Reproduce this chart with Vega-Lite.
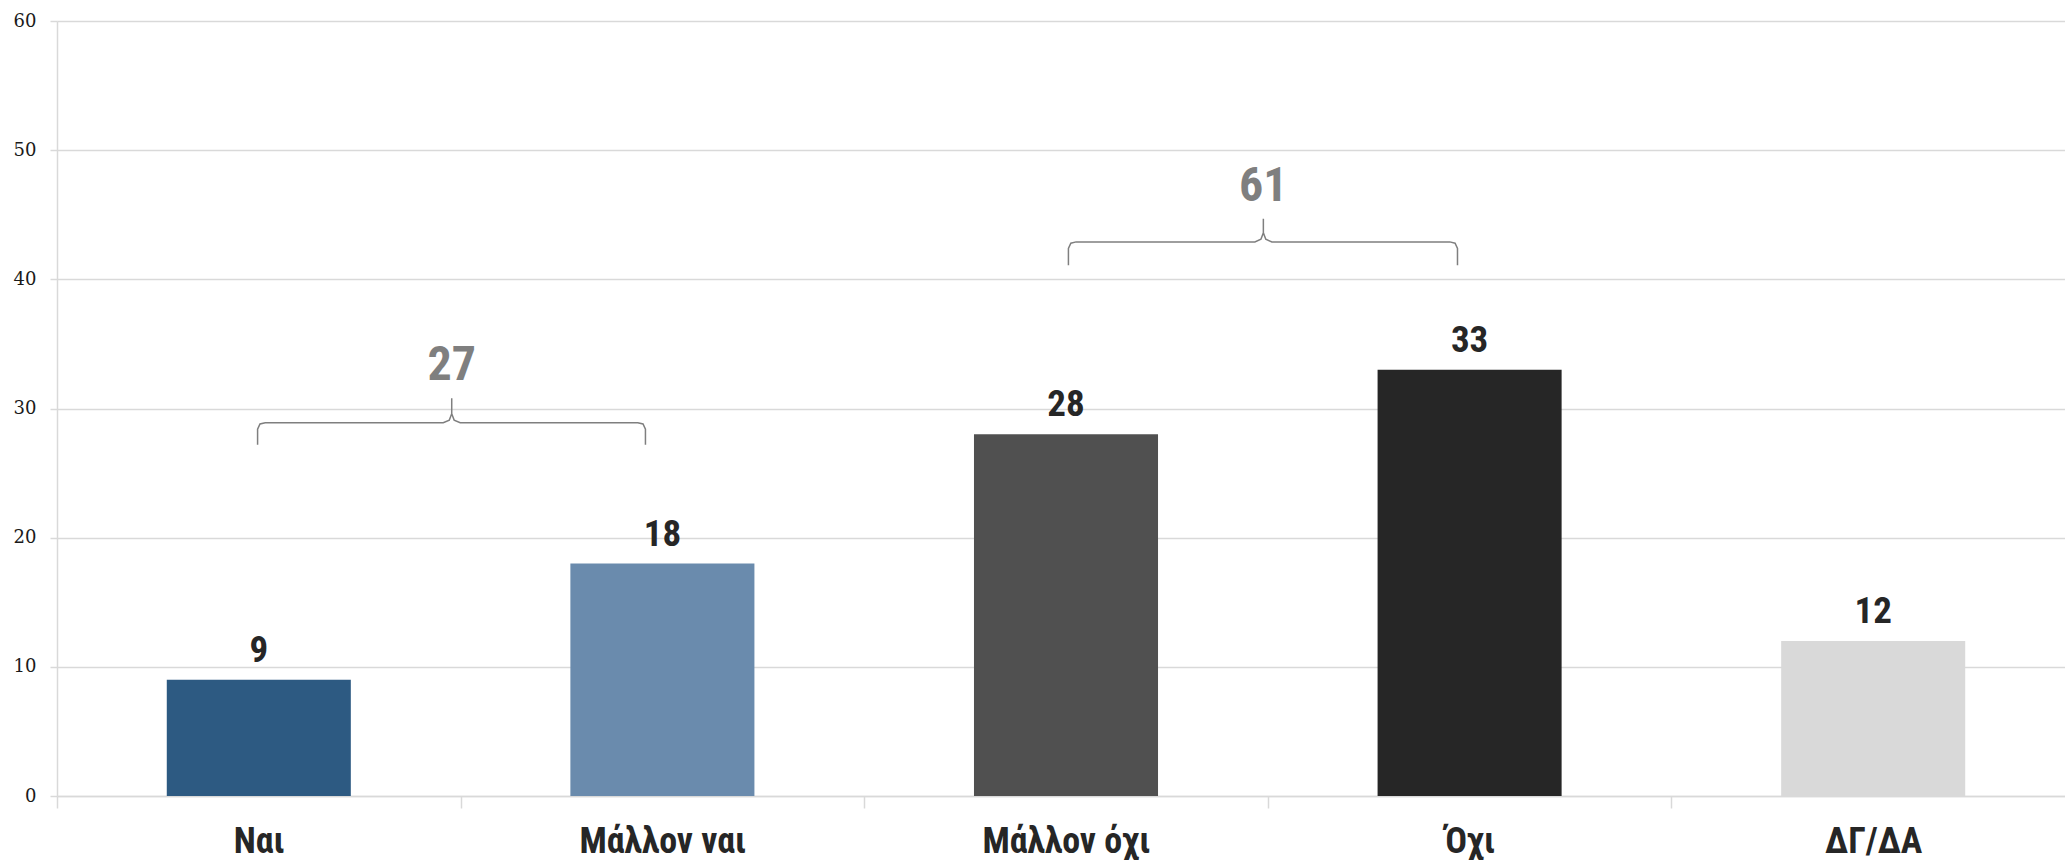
{
  "$schema": "https://vega.github.io/schema/vega-lite/v6.json",
  "width": 2018,
  "height": 775,
  "autosize": "none",
  "padding": {"left": 57, "top": 21, "right": -10, "bottom": 64},
  "background": "white",
  "config": {"view": {"stroke": null}},
  "datasets": {
    "bars": [
      {"answer": "Ναι", "value": 9},
      {"answer": "Μάλλον ναι", "value": 18},
      {"answer": "Μάλλον όχι", "value": 28},
      {"answer": "Όχι", "value": 33},
      {"answer": "ΔΓ/ΔΑ", "value": 12}
    ],
    "brackets": [
      {"g": "A", "i": 0, "x": 0.497, "value": 27.2},
      {"g": "A", "i": 1, "x": 0.497, "value": 28.4},
      {"g": "A", "i": 2, "x": 0.503, "value": 28.8},
      {"g": "A", "i": 3, "x": 0.516, "value": 28.9},
      {"g": "A", "i": 4, "x": 0.957, "value": 28.9},
      {"g": "A", "i": 5, "x": 0.972, "value": 29.1},
      {"g": "A", "i": 6, "x": 0.978, "value": 29.6},
      {"g": "A", "i": 7, "x": 0.978, "value": 30.8},
      {"g": "A", "i": 8, "x": 0.978, "value": 29.6},
      {"g": "A", "i": 9, "x": 0.984, "value": 29.1},
      {"g": "A", "i": 10, "x": 0.999, "value": 28.9},
      {"g": "A", "i": 11, "x": 1.439, "value": 28.9},
      {"g": "A", "i": 12, "x": 1.452, "value": 28.8},
      {"g": "A", "i": 13, "x": 1.458, "value": 28.4},
      {"g": "A", "i": 14, "x": 1.458, "value": 27.2},
      {"g": "B", "i": 0, "x": 2.506, "value": 41.1},
      {"g": "B", "i": 1, "x": 2.506, "value": 42.4},
      {"g": "B", "i": 2, "x": 2.512, "value": 42.8},
      {"g": "B", "i": 3, "x": 2.525, "value": 42.9},
      {"g": "B", "i": 4, "x": 2.968, "value": 42.9},
      {"g": "B", "i": 5, "x": 2.983, "value": 43.1},
      {"g": "B", "i": 6, "x": 2.989, "value": 43.6},
      {"g": "B", "i": 7, "x": 2.989, "value": 44.7},
      {"g": "B", "i": 8, "x": 2.989, "value": 43.6},
      {"g": "B", "i": 9, "x": 2.995, "value": 43.1},
      {"g": "B", "i": 10, "x": 3.010, "value": 42.9},
      {"g": "B", "i": 11, "x": 3.451, "value": 42.9},
      {"g": "B", "i": 12, "x": 3.464, "value": 42.8},
      {"g": "B", "i": 13, "x": 3.470, "value": 42.4},
      {"g": "B", "i": 14, "x": 3.470, "value": 41.1}
    ],
    "totals": [
      {"label": "27", "x": 0.978, "value": 32.2},
      {"label": "61", "x": 2.989, "value": 46.1}
    ]
  },
  "layer": [
    {
      "data": {"name": "bars"},
      "encoding": {
        "x": {
          "field": "answer",
          "type": "nominal",
          "sort": null,
          "scale": {"paddingInner": 0.544, "paddingOuter": 0.272},
          "axis": {
            "title": null,
            "labelAngle": 0,
            "tickOffset": -201.8,
            "labelOffset": 201.8,
            "domainColor": "#d9d9d9",
            "domainWidth": 1.5,
            "tickColor": "#d9d9d9",
            "tickWidth": 1.5,
            "tickSize": 12,
            "labelFont": "Roboto Condensed, Liberation Sans Narrow, Arial Narrow, Roboto, sans-serif",
            "labelFontSize": 36,
            "labelFontWeight": "bold",
            "labelColor": "#262626",
            "labelPadding": 16
          }
        },
        "y": {
          "field": "value",
          "type": "quantitative",
          "scale": {"domain": [0, 60], "nice": false},
          "axis": {
            "title": null,
            "values": [0, 10, 20, 30, 40, 50, 60],
            "domainColor": "#d9d9d9",
            "domainWidth": 1.5,
            "tickColor": "#d9d9d9",
            "tickWidth": 1.5,
            "tickSize": 7,
            "gridColor": "#d9d9d9",
            "gridWidth": 1.5,
            "labelFont": "DejaVu Serif",
            "labelFontSize": 18,
            "labelColor": "#1a1a1a",
            "labelPadding": 14
          }
        }
      },
      "layer": [
        {
          "mark": {"type": "bar"},
          "encoding": {
            "color": {
              "field": "answer",
              "type": "nominal",
              "scale": {
                "domain": ["Ναι", "Μάλλον ναι", "Μάλλον όχι", "Όχι", "ΔΓ/ΔΑ"],
                "range": ["#2d5a82", "#6a8bad", "#505050", "#262626", "#d9d9d9"]
              },
              "legend": null
            }
          }
        },
        {
          "mark": {
            "type": "text",
            "baseline": "alphabetic",
            "dy": -18,
            "font": "Roboto Condensed, Liberation Sans Narrow, Arial Narrow, Roboto, sans-serif",
            "fontSize": 37,
            "fontWeight": "bold",
            "color": "#262626"
          },
          "encoding": {"text": {"field": "value", "type": "quantitative"}}
        }
      ]
    },
    {
      "layer": [
        {
          "data": {"name": "brackets"},
          "mark": {"type": "line", "stroke": "#7f7f7f", "strokeWidth": 1.5},
          "encoding": {
            "x": {"field": "x", "type": "quantitative", "scale": {"domain": [0, 5], "nice": false, "zero": false}, "axis": null},
            "y": {
              "field": "value",
              "type": "quantitative",
              "axis": {
                "title": null,
                "values": [0, 10, 20, 30, 40, 50, 60],
                "domainColor": "#d9d9d9",
                "domainWidth": 1.5,
                "tickColor": "#d9d9d9",
                "tickWidth": 1.5,
                "tickSize": 7,
                "gridColor": "#d9d9d9",
                "gridWidth": 1.5,
                "labelFont": "DejaVu Serif",
                "labelFontSize": 18,
                "labelColor": "#1a1a1a",
                "labelPadding": 14
              }
            },
            "detail": {"field": "g", "type": "nominal"},
            "order": {"field": "i", "type": "quantitative"}
          }
        },
        {
          "data": {"name": "totals"},
          "mark": {
            "type": "text",
            "baseline": "alphabetic",
            "font": "Roboto Condensed, Liberation Sans Narrow, Arial Narrow, Roboto, sans-serif",
            "fontSize": 48,
            "fontWeight": "bold",
            "color": "#7f7f7f"
          },
          "encoding": {
            "x": {"field": "x", "type": "quantitative", "scale": {"domain": [0, 5], "nice": false, "zero": false}, "axis": null},
            "y": {
              "field": "value",
              "type": "quantitative",
              "axis": {
                "title": null,
                "values": [0, 10, 20, 30, 40, 50, 60],
                "domainColor": "#d9d9d9",
                "domainWidth": 1.5,
                "tickColor": "#d9d9d9",
                "tickWidth": 1.5,
                "tickSize": 7,
                "gridColor": "#d9d9d9",
                "gridWidth": 1.5,
                "labelFont": "DejaVu Serif",
                "labelFontSize": 18,
                "labelColor": "#1a1a1a",
                "labelPadding": 14
              }
            },
            "text": {"field": "label", "type": "nominal"}
          }
        }
      ]
    }
  ],
  "resolve": {"scale": {"x": "independent"}}
}
